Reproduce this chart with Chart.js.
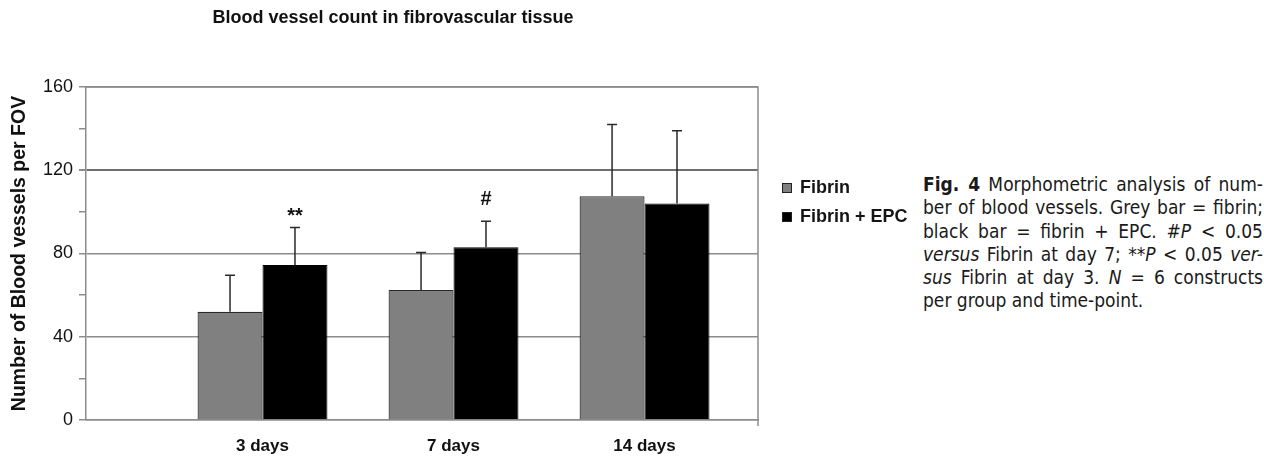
<!DOCTYPE html>
<html>
<head>
<meta charset="utf-8">
<script src="https://cdn.jsdelivr.net/npm/chart.js@4/dist/chart.umd.min.js"></script>
<style>
    body { margin: 0; background: #fff; width: 1264px; height: 456px; position: relative; overflow: hidden; }
    #wrap { position: absolute; left: 0; top: 0; width: 786px; height: 456px; }
    .legend { position: absolute; left: 782px; top: 173px; font-family: Arial, "Liberation Sans", sans-serif; font-size: 18px; font-weight: bold; color: #151515; }
    .legend div { height: 29px; display: flex; align-items: center; }
    .legend span.sw { display: inline-block; width: 8px; height: 8px; border: 1px solid #222; margin-right: 8px; }
    .caption { position: absolute; left: 923px; top: 173px; width: 340px; font-family: "DejaVu Sans Condensed", "Liberation Sans Narrow", Arial, sans-serif; font-size: 19px; line-height: 23.3px; color: #1a1a1a; }
    .caption div { text-align: justify; text-align-last: justify; white-space: nowrap; }
    .caption div.last { text-align-last: left; }
</style>
</head>
<body>
<div id="wrap"><canvas id="chart" width="786" height="456"></canvas></div>

<div class="legend">
    <div><span class="sw" style="background:#808080"></span>Fibrin</div>
    <div><span class="sw" style="background:#000"></span>Fibrin + EPC</div>
</div>

<div class="caption">
    <div><b>Fig. 4</b> Morphometric analysis of num-</div>
    <div>ber of blood vessels. Grey bar = fibrin;</div>
    <div>black bar = fibrin + EPC. <i>#P</i> &lt; 0.05</div>
    <div><i>versus</i> Fibrin at day 7; <i>**P</i> &lt; 0.05 <i>ver-</i></div>
    <div><i>sus</i> Fibrin at day 3. <i>N</i> = 6 constructs</div>
    <div class="last">per group and time-point.</div>
</div>

<script>
// data
const categories = ['3 days', '7 days', '14 days'];
const categoryPos = [1, 2, 3];
const seriesNames = ['Fibrin', 'Fibrin + EPC'];
const fibrin = [52, 62.5, 107.5];
const fibrinErr = [17.5, 18, 34.5];
const fibrinEpc = [74.5, 83, 104];
const fibrinEpcErr = [18, 12.5, 35];
const significance = ['**', '#', ''];   // marks above Fibrin + EPC bars
const yTicks = [0, 40, 80, 120, 160];

const errors = [fibrinErr, fibrinEpcErr];
const toPoints = arr => arr.map((v, i) => ({ x: categoryPos[i], y: v }));

// error bars (upper only) + significance marks
const errorBarPlugin = {
    id: 'errorBars',
    afterDatasetsDraw(chart) {
        const ctx = chart.ctx;
        const yScale = chart.scales.y;
        ctx.save();
        chart.data.datasets.forEach((ds, di) => {
            const meta = chart.getDatasetMeta(di);
            meta.data.forEach((bar, i) => {
                const top = yScale.getPixelForValue(ds.data[i].y + errors[di][i]);
                ctx.strokeStyle = '#2a2a2a';
                ctx.lineWidth = 1.5;
                ctx.beginPath();
                ctx.moveTo(bar.x, bar.y);
                ctx.lineTo(bar.x, top);
                ctx.moveTo(bar.x - 5, top);
                ctx.lineTo(bar.x + 5, top);
                ctx.stroke();
                const mark = di === 1 ? significance[i] : '';
                if (mark) {
                    ctx.fillStyle = '#111';
                    ctx.font = 'bold 20px Arial';
                    ctx.textAlign = 'center';
                    ctx.textBaseline = 'alphabetic';
                    ctx.fillText(mark, bar.x, top - (mark === '#' ? 16 : 5));
                }
            });
        });
        ctx.restore();
    }
};

// grey frame on top and right of the plot
const framePlugin = {
    id: 'frame',
    beforeDatasetsDraw(chart) {
        const { ctx, chartArea: a } = chart;
        ctx.save();
        ctx.strokeStyle = '#8c8c8c';
        ctx.lineWidth = 1.5;
        ctx.beginPath();
        ctx.moveTo(a.left, a.top);
        ctx.lineTo(a.right, a.top);
        ctx.lineTo(a.right, a.bottom + 6);
        ctx.stroke();
        ctx.restore();
    }
};

new Chart(document.getElementById('chart'), {
    type: 'bar',
    data: {
        datasets: [{
            label: seriesNames[0],
            data: toPoints(fibrin),
            backgroundColor: '#808080',
            borderColor: '#2a2a2a',
            borderWidth: 1.2
        }, {
            label: seriesNames[1],
            data: toPoints(fibrinEpc),
            backgroundColor: '#000',
            borderColor: '#000',
            borderWidth: 1
        }]
    },
    options: {
        responsive: false,
        animation: false,
        categoryPercentage: 0.68,
        barPercentage: 1,
        layout: { padding: { left: 28, right: 28, top: 0, bottom: 0 } },
        plugins: {
            legend: { display: false },
            tooltip: { enabled: false },
            title: {
                display: true,
                text: 'Blood vessel count in fibrovascular tissue',
                color: '#111',
                font: { family: 'Arial', size: 18, weight: 'bold' },
                padding: { top: 7.2, bottom: 58.2 }
            }
        },
        scales: {
            x: {
                type: 'linear',
                offset: false,
                min: 0.076,
                max: 3.594,
                afterBuildTicks: s => { s.ticks = categoryPos.map(v => ({ value: v })); },
                afterFit: s => { s.height = 36; },
                ticks: {
                    callback: v => categories[categoryPos.indexOf(v)] || '',
                    color: '#111',
                    font: { family: 'Arial', size: 17, weight: 'bold' },
                    padding: 16,
                    maxRotation: 0
                },
                grid: { display: false, drawTicks: false, offset: false },
                border: { display: true, color: '#8c8c8c', width: 1.5 }
            },
            y: {
                min: 0,
                max: 160,
                afterBuildTicks: s => {
                    const t = [];
                    for (let v = 0; v <= 160; v += 20) t.push({ value: v });
                    s.ticks = t;
                },
                afterFit: s => { s.width = 58; },
                ticks: {
                    callback: v => yTicks.includes(v) ? v : '',
                    color: '#111',
                    font: { family: 'Arial', size: 18 },
                    padding: 6
                },
                grid: {
                    color: c => yTicks.includes(c.tick.value) ? (c.tick.value === 120 ? '#6e6e6e' : '#8c8c8c') : 'rgba(0,0,0,0)',
                    lineWidth: c => c.tick.value === 120 ? 2 : 1.5,
                    tickColor: '#8c8c8c',
                    tickLength: 7
                },
                border: { color: '#8c8c8c', width: 1.5 },
                title: {
                    display: true,
                    text: 'Number of Blood vessels per FOV',
                    color: '#111',
                    font: { family: 'Arial', size: 19.5, weight: 'bold' },
                    padding: { top: -20.2, bottom: 0 }
                }
            }
        }
    },
    plugins: [framePlugin, errorBarPlugin]
});
</script>
</body>
</html>
